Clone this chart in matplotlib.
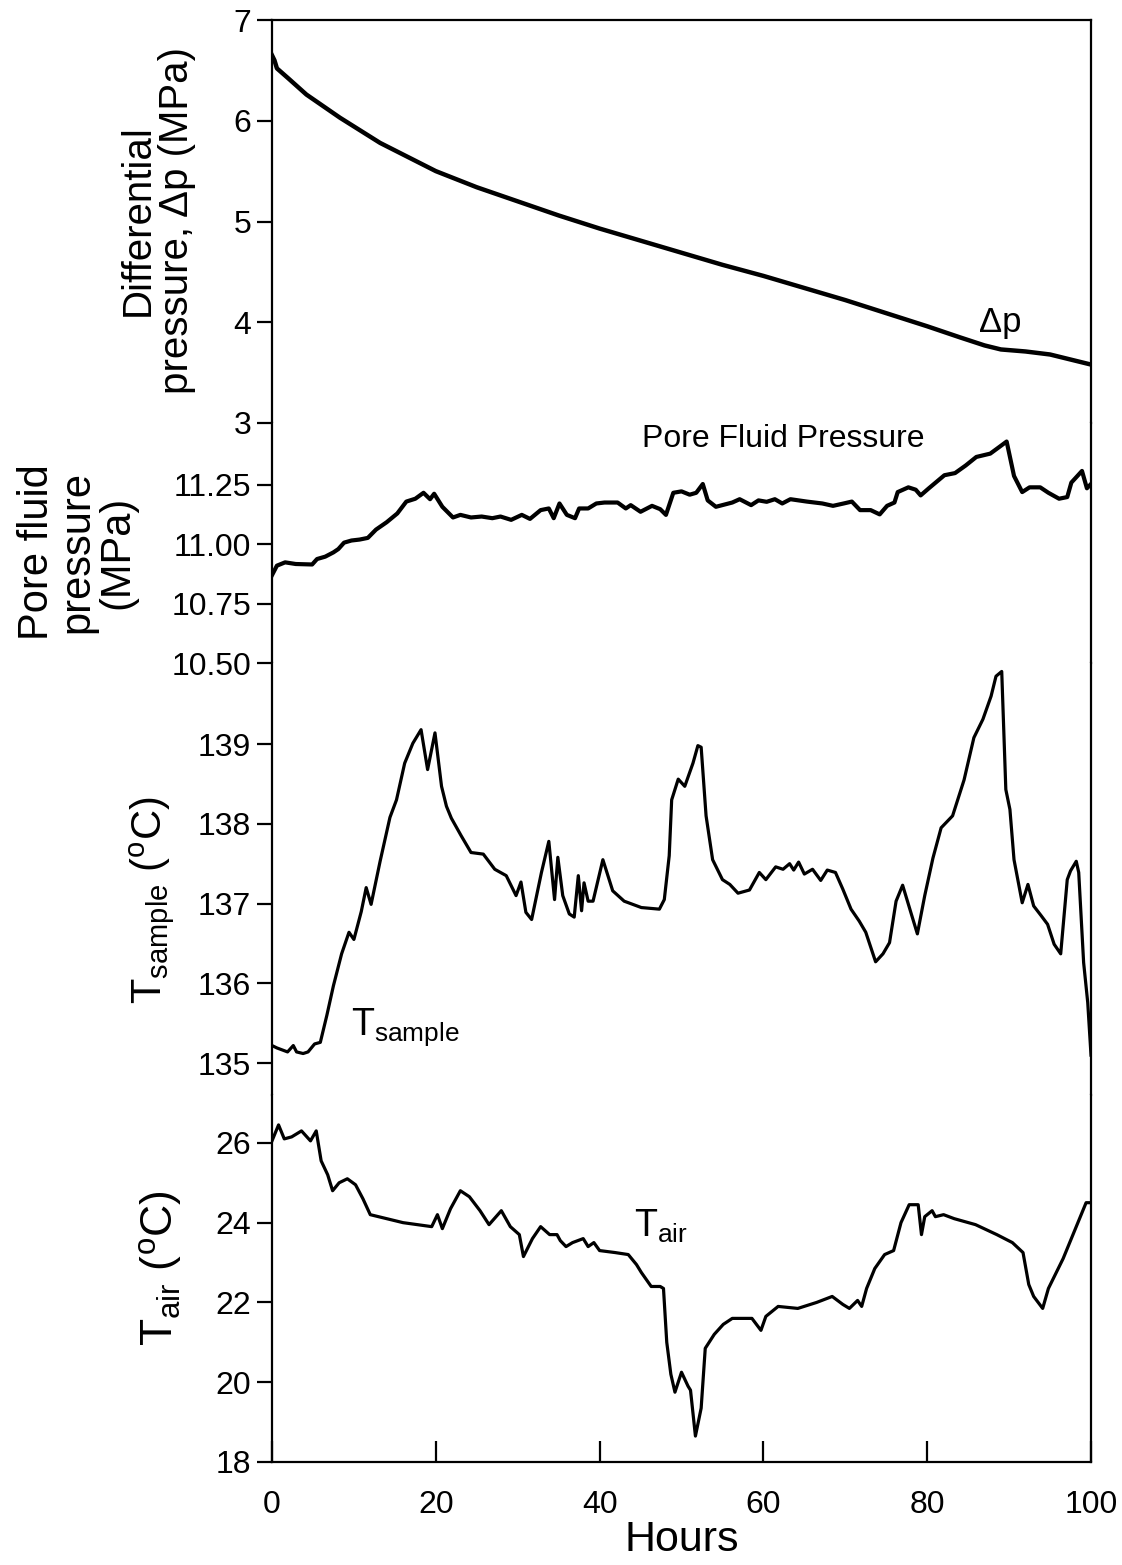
import numpy as np
import matplotlib
matplotlib.use("Agg")
from matplotlib import pyplot as plt

plt.rcParams['font.family'] = ['Liberation Sans', 'DejaVu Sans']
plt.rcParams['mathtext.fontset'] = 'custom'
plt.rcParams['mathtext.rm'] = 'Liberation Sans'

# differential pressure (MPa)
dp_hours = [0, 0.3, 0.6, 2, 4.2, 8.3, 13.2, 20, 25, 30, 35, 40, 45, 50, 55, 60, 65, 70, 75,
            80, 84, 87, 89, 92, 95, 98, 100]
dp_values = [6.65, 6.6, 6.52, 6.42, 6.26, 6.03, 5.78, 5.5, 5.34, 5.2, 5.06, 4.93, 4.81, 4.69,
             4.57, 4.46, 4.34, 4.22, 4.09, 3.96, 3.85, 3.77, 3.73, 3.71, 3.68, 3.62, 3.58]

# pore fluid pressure (MPa)
pf_hours = [0, 0.6, 1.6, 2.9, 4.9, 5.5, 6.5, 7.5, 8.1, 8.8, 9.7, 10.7, 11.7, 12.7, 14, 15.3,
            16.4, 17.5, 18.5, 19.3, 19.8, 20.8, 22.1, 23, 24.3, 25.6, 26.9, 27.9, 29.2, 30.5,
            31.5, 32.8, 33.8, 34.4, 35.1, 36, 37, 37.5, 38.6, 39.6, 40.6, 42.2, 43.2, 43.8, 45,
            46.4, 47.4, 48.1, 49, 50, 51, 51.8, 52.6, 53.2, 54.2, 56.2, 57.1, 58.5, 59.4, 60.4,
            61.4, 62.3, 63.3, 65.3, 67.2, 68.5, 69.8, 70.8, 71.8, 73.1, 74.2, 75.1, 76, 76.4,
            77.7, 78.6, 79.2, 80.2, 82.1, 83.4, 84.7, 86, 87.7, 89, 89.7, 90.6, 91.6, 92.5,
            93.8, 94.8, 96.1, 97.1, 97.6, 98.9, 99.5, 100]
pf_values = [10.87, 10.91, 10.924, 10.917, 10.915, 10.938, 10.948, 10.966, 10.98, 11.007,
             11.016, 11.02, 11.027, 11.062, 11.093, 11.13, 11.18, 11.192, 11.217, 11.19,
             11.213, 11.158, 11.113, 11.124, 11.113, 11.117, 11.11, 11.117, 11.103, 11.124,
             11.107, 11.144, 11.151, 11.11, 11.172, 11.124, 11.11, 11.151, 11.151, 11.172,
             11.176, 11.176, 11.151, 11.165, 11.137, 11.162, 11.148, 11.124, 11.217, 11.223,
             11.209, 11.217, 11.254, 11.185, 11.158, 11.176, 11.19, 11.165, 11.185, 11.179,
             11.19, 11.172, 11.19, 11.18, 11.172, 11.162, 11.172, 11.18, 11.144, 11.144,
             11.126, 11.162, 11.176, 11.22, 11.24, 11.23, 11.206, 11.236, 11.291, 11.3,
             11.332, 11.368, 11.382, 11.415, 11.433, 11.288, 11.22, 11.24, 11.24, 11.217,
             11.192, 11.199, 11.26, 11.309, 11.236, 11.254]

# sample temperature (C)
ts_hours = [0, 0.6, 1.9, 2.6, 3, 3.8, 4.4, 5.2, 5.9, 6.7, 7.5, 8.5, 9.4, 10, 10.9, 11.5, 12.1,
            13.2, 14.4, 15.2, 16.2, 17.2, 18.2, 19, 19.9, 20.7, 21.3, 21.9, 23.1, 24.3, 25.8,
            27.2, 28.6, 29.8, 30.4, 31, 31.7, 32.9, 33.8, 34.5, 34.9, 35.5, 36.3, 36.9, 37.4,
            37.8, 38.1, 38.6, 39.2, 40.4, 41.6, 43, 45.1, 47.3, 47.9, 48.5, 48.8, 49.6, 50.4,
            51.4, 52, 52.4, 53, 53.8, 55, 55.9, 56.9, 58.3, 59.5, 60.3, 61.5, 62.4, 63.2, 63.7,
            64.3, 65, 66, 67, 67.8, 68.8, 69.7, 70.7, 71.7, 72.5, 73.7, 74.6, 75.4, 76.2, 77,
            78, 78.8, 79.7, 80.7, 81.7, 83.1, 84.5, 85.7, 86.8, 87.8, 88.4, 89.1, 89.6, 90.1,
            90.6, 91.6, 92.3, 93, 93.9, 94.7, 95.5, 96.3, 97.1, 97.5, 98.2, 98.5, 99.1, 99.6,
            100]
ts_values = [135.22, 135.19, 135.14, 135.22, 135.14, 135.12, 135.14, 135.24, 135.26, 135.6,
             135.97, 136.37, 136.64, 136.55, 136.9, 137.2, 136.99, 137.53, 138.08, 138.3,
             138.76, 139.01, 139.18, 138.68, 139.14, 138.47, 138.22, 138.07, 137.85, 137.64,
             137.62, 137.43, 137.35, 137.1, 137.27, 136.89, 136.8, 137.39, 137.78, 137.05,
             137.58, 137.1, 136.87, 136.83, 137.35, 136.91, 137.26, 137.03, 137.03, 137.55,
             137.16, 137.03, 136.95, 136.93, 137.05, 137.6, 138.3, 138.56, 138.47, 138.76,
             138.98, 138.96, 138.1, 137.55, 137.3, 137.24, 137.13, 137.17, 137.39, 137.3,
             137.46, 137.43, 137.5, 137.42, 137.52, 137.37, 137.43, 137.29, 137.42, 137.39,
             137.18, 136.93, 136.78, 136.64, 136.27, 136.37, 136.51, 137.03, 137.23, 136.89,
             136.62, 137.1, 137.57, 137.95, 138.1, 138.55, 139.08, 139.31, 139.6, 139.85,
             139.91, 138.43, 138.18, 137.55, 137.01, 137.24, 136.97, 136.85, 136.74, 136.49,
             136.37, 137.3, 137.41, 137.53, 137.39, 136.26, 135.76, 135.1]

# air temperature (C)
ta_hours = [0, 0.8, 1.5, 2.4, 3.6, 4.7, 5.4, 6, 6.8, 7.4, 8.2, 9.2, 10.2, 11.1, 12, 14, 16,
            19.5, 20.2, 20.8, 21.8, 23, 24.1, 25.4, 26.5, 28, 29.1, 30.2, 30.7, 31.8, 32.8,
            33.9, 34.8, 35.2, 35.9, 36.7, 38, 38.6, 39.3, 40, 41.9, 43.5, 44.5, 45.1, 46.3,
            47.4, 47.8, 48.2, 48.7, 49.2, 50, 50.8, 51.1, 51.7, 52.4, 52.9, 54, 55.1, 56.2,
            58.6, 59.7, 60.3, 61.8, 64.2, 66.5, 68.4, 69.7, 70.5, 71.5, 72, 72.6, 73.6, 74.8,
            75.9, 76.8, 77.8, 78.9, 79.3, 79.7, 80.6, 81, 82, 83.3, 85.9, 88.5, 90.4, 91.7,
            92.4, 93, 94.1, 94.8, 96.6, 98.5, 99.4, 100]
ta_values = [26.05, 26.45, 26.1, 26.15, 26.3, 26.05, 26.3, 25.55, 25.2, 24.8, 25.0, 25.1,
             24.95, 24.6, 24.2, 24.1, 24.0, 23.9, 24.2, 23.85, 24.35, 24.8, 24.65, 24.3,
             23.95, 24.3, 23.9, 23.7, 23.15, 23.6, 23.9, 23.7, 23.7, 23.55, 23.4, 23.5, 23.6,
             23.4, 23.5, 23.3, 23.25, 23.2, 22.95, 22.75, 22.4, 22.4, 22.35, 21.0, 20.2,
             19.75, 20.25, 19.9, 19.8, 18.65, 19.35, 20.85, 21.2, 21.45, 21.6, 21.6, 21.3,
             21.65, 21.9, 21.85, 22.0, 22.15, 21.95, 21.85, 22.05, 21.9, 22.35, 22.85, 23.2,
             23.3, 24.0, 24.45, 24.45, 23.7, 24.15, 24.3, 24.15, 24.2, 24.1, 23.95, 23.7,
             23.5, 23.25, 22.45, 22.15, 21.85, 22.35, 23.1, 24.05, 24.5, 24.5]

hour_ticks = [0, 20, 40, 60, 80, 100]
dp_ticks = [3, 4, 5, 6, 7]
pf_ticks = [10.50, 10.75, 11.00, 11.25]
ts_ticks = [135, 136, 137, 138, 139]
ta_ticks = [18, 20, 22, 24, 26]

fig = plt.figure(figsize=(11.22, 15.65), dpi=100)
gs = fig.add_gridspec(4, 1, height_ratios=[403, 240, 432, 367], hspace=0,
                      left=272 / 1122, right=1091 / 1122, top=1 - 20 / 1565, bottom=1 - 1462 / 1565)
axs = [fig.add_subplot(gs[i]) for i in range(4)]
for ax in axs[1:]:
    ax.sharex(axs[0])

series = [(dp_hours, dp_values, 3.2), (pf_hours, pf_values, 3.0),
          (ts_hours, ts_values, 2.3), (ta_hours, ta_values, 2.3)]
for ax, (h, v, lw) in zip(axs, series):
    ax.plot(h, v, color='black', lw=lw, solid_joinstyle='round')

axs[0].set_ylim(3, 7)
axs[1].set_ylim(10.5, 11.511)
axs[2].set_ylim(134.6, 140.016)
axs[3].set_ylim(18, 27.2)
axs[0].set_xlim(0, 100)

for ax, ticks in zip(axs, [dp_ticks, pf_ticks, ts_ticks, ta_ticks]):
    ax.set_yticks(ticks)
    ax.tick_params(axis='y', direction='out', length=11, width=1.6, labelsize=23, pad=4)
    for s in ['left', 'right', 'top', 'bottom']:
        ax.spines[s].set_linewidth(1.6)
    ax.spines['top'].set_visible(False)
    ax.spines['bottom'].set_visible(False)
    ax.tick_params(axis='x', bottom=False, labelbottom=False)

axs[1].set_yticklabels(['%.2f' % t for t in pf_ticks])
axs[0].spines['top'].set_visible(True)
axs[3].spines['bottom'].set_visible(True)
axs[3].set_xticks(hour_ticks)
axs[3].tick_params(axis='x', bottom=True, labelbottom=True, direction='in', length=15,
                   width=1.6, labelsize=23, pad=20)
axs[3].set_xlabel('Hours', fontsize=31, labelpad=0)

# y-axis titles
fig.text(157 / 1122, 1 - 220 / 1565, 'Differential\npressure, \u0394p (MPa)', rotation=90,
         ha='center', va='center', multialignment='center', fontsize=29, linespacing=1.05)
fig.text(77 / 1122, 1 - 552 / 1565, 'Pore fluid\npressure\n(MPa)', rotation=90,
         ha='center', va='center', multialignment='center', fontsize=30, linespacing=1.0)
fig.text(152 / 1122, 1 - 900 / 1565, r'T$_{\mathregular{sample}}$ ($^{\mathregular{o}}$C)',
         rotation=90, ha='center', va='center', fontsize=30)
fig.text(160 / 1122, 1 - 1268 / 1565, r'T$_{\mathregular{air}}$ ($^{\mathregular{o}}$C)',
         rotation=90, ha='center', va='center', fontsize=32)

# curve labels
axs[0].text(86.3, 4.0, '\u0394p', fontsize=25, ha='left', va='center')
axs[1].text(45.2, 11.445, 'Pore Fluid Pressure', fontsize=23, ha='left', va='center')
axs[2].text(9.7, 135.45, r'T$_{\mathregular{sample}}$', fontsize=27, ha='left', va='center')
axs[3].text(44.2, 23.9, r'T$_{\mathregular{air}}$', fontsize=27, ha='left', va='center')

plt.savefig('out.png', dpi=100)
